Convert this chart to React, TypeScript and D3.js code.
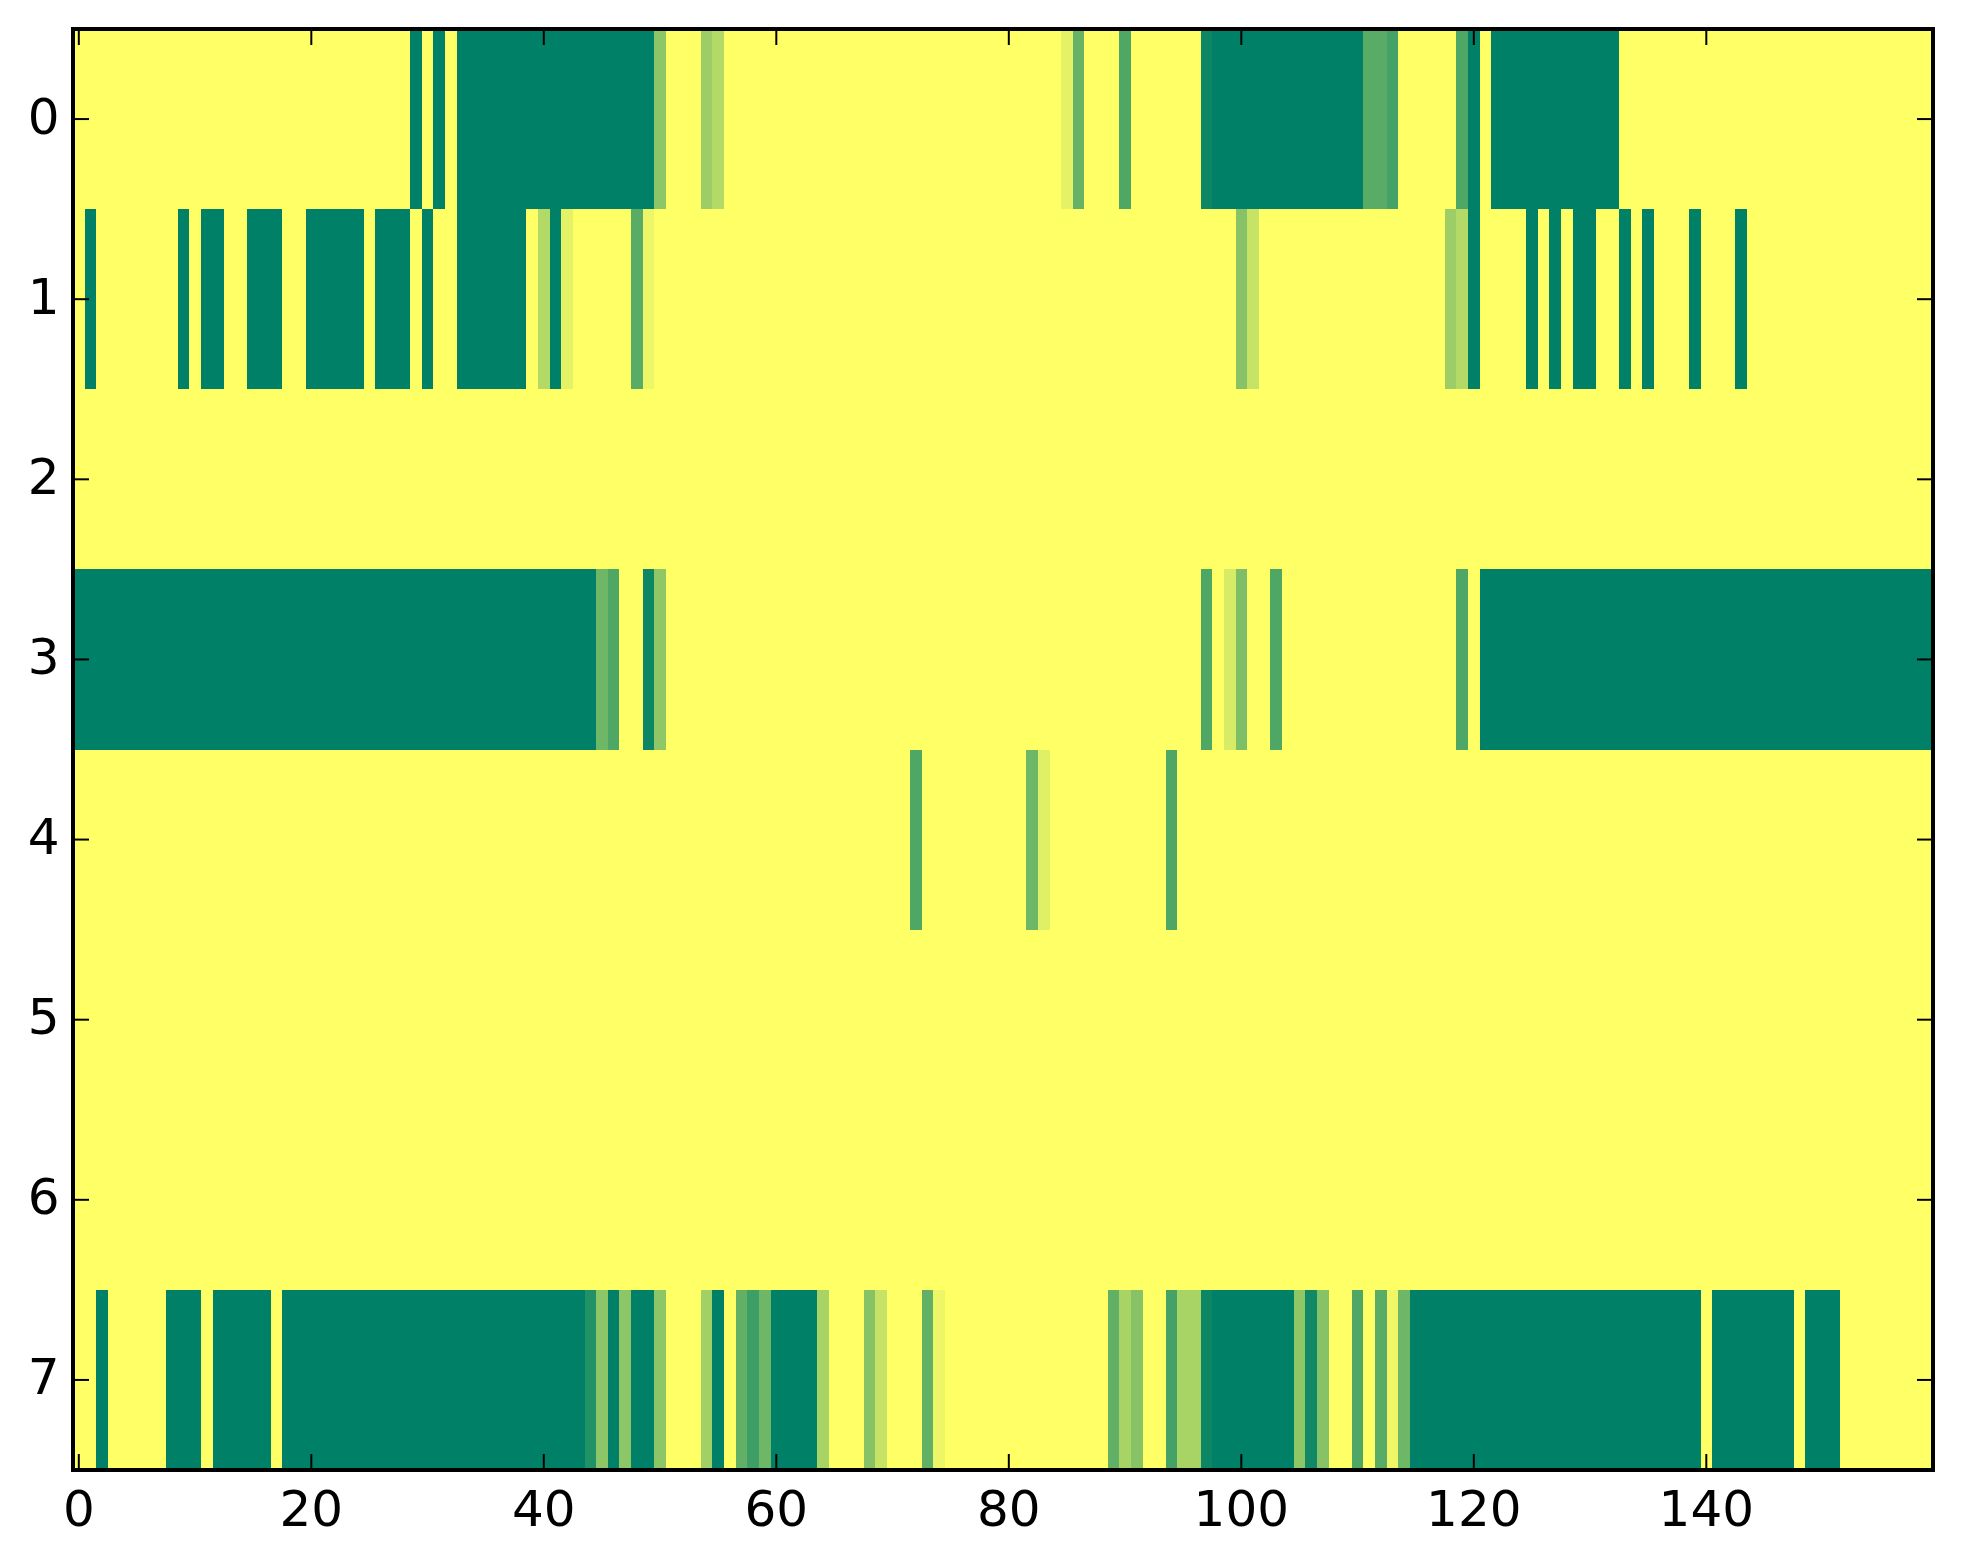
import * as d3 from "d3"

// 8 rows x 160 columns (0 = yellow, 1 = dark green)
const row0 = [
  0, 0, 0, 0, 0, 0, 0, 0, 0, 0, 0, 0, 0, 0, 0, 0, 0, 0, 0, 0,
  0, 0, 0, 0, 0, 0, 0, 0, 0, 1, 0, 1, 0, 1, 1, 1, 1, 1, 1, 1,
  1, 1, 1, 1, 1, 1, 1, 1, 1, 1, 0.45, 0, 0, 0, 0.39, 0.3, 0, 0, 0, 0,
  0, 0, 0, 0, 0, 0, 0, 0, 0, 0, 0, 0, 0, 0, 0, 0, 0, 0, 0, 0,
  0, 0, 0, 0, 0, 0.1, 0.6, 0, 0, 0, 0.69, 0, 0, 0, 0, 0, 0, 0.95, 1, 1,
  1, 1, 1, 1, 1, 1, 1, 1, 1, 1, 1, 0.65, 0.65, 0.73, 0, 0, 0, 0, 0, 0.69,
  1, 0, 1, 1, 1, 1, 1, 1, 1, 1, 1, 1, 1, 0, 0, 0, 0, 0, 0, 0,
  0, 0, 0, 0, 0, 0, 0, 0, 0, 0, 0, 0, 0, 0, 0, 0, 0, 0, 0, 0,
]
const row1 = [
  0, 1, 0, 0, 0, 0, 0, 0, 0, 1, 0, 1, 1, 0, 0, 1, 1, 1, 0, 0,
  1, 1, 1, 1, 1, 0, 1, 1, 1, 0, 1, 0, 0, 1, 1, 1, 1, 1, 1, 0,
  0.3, 1, 0.1, 0, 0, 0, 0, 0, 0.65, 0.07, 0, 0, 0, 0, 0, 0, 0, 0, 0, 0,
  0, 0, 0, 0, 0, 0, 0, 0, 0, 0, 0, 0, 0, 0, 0, 0, 0, 0, 0, 0,
  0, 0, 0, 0, 0, 0, 0, 0, 0, 0, 0, 0, 0, 0, 0, 0, 0, 0, 0, 0,
  0.47, 0.22, 0, 0, 0, 0, 0, 0, 0, 0, 0, 0, 0, 0, 0, 0, 0, 0, 0.39, 0.3,
  1, 0, 0, 0, 0, 1, 0, 1, 0, 1, 1, 0, 0, 1, 0, 1, 0, 0, 0, 1,
  0, 0, 0, 1, 0, 0, 0, 0, 0, 0, 0, 0, 0, 0, 0, 0, 0, 0, 0, 0,
]
const row2 = [
  0, 0, 0, 0, 0, 0, 0, 0, 0, 0, 0, 0, 0, 0, 0, 0, 0, 0, 0, 0,
  0, 0, 0, 0, 0, 0, 0, 0, 0, 0, 0, 0, 0, 0, 0, 0, 0, 0, 0, 0,
  0, 0, 0, 0, 0, 0, 0, 0, 0, 0, 0, 0, 0, 0, 0, 0, 0, 0, 0, 0,
  0, 0, 0, 0, 0, 0, 0, 0, 0, 0, 0, 0, 0, 0, 0, 0, 0, 0, 0, 0,
  0, 0, 0, 0, 0, 0, 0, 0, 0, 0, 0, 0, 0, 0, 0, 0, 0, 0, 0, 0,
  0, 0, 0, 0, 0, 0, 0, 0, 0, 0, 0, 0, 0, 0, 0, 0, 0, 0, 0, 0,
  0, 0, 0, 0, 0, 0, 0, 0, 0, 0, 0, 0, 0, 0, 0, 0, 0, 0, 0, 0,
  0, 0, 0, 0, 0, 0, 0, 0, 0, 0, 0, 0, 0, 0, 0, 0, 0, 0, 0, 0,
]
const row3 = [
  1, 1, 1, 1, 1, 1, 1, 1, 1, 1, 1, 1, 1, 1, 1, 1, 1, 1, 1, 1,
  1, 1, 1, 1, 1, 1, 1, 1, 1, 1, 1, 1, 1, 1, 1, 1, 1, 1, 1, 1,
  1, 1, 1, 1, 1, 0.57, 0.69, 0, 0, 0.95, 0.44, 0, 0, 0, 0, 0, 0, 0, 0, 0,
  0, 0, 0, 0, 0, 0, 0, 0, 0, 0, 0, 0, 0, 0, 0, 0, 0, 0, 0, 0,
  0, 0, 0, 0, 0, 0, 0, 0, 0, 0, 0, 0, 0, 0, 0, 0, 0, 0.69, 0, 0.16,
  0.51, 0, 0, 0.69, 0, 0, 0, 0, 0, 0, 0, 0, 0, 0, 0, 0, 0, 0, 0, 0.69,
  0, 1, 1, 1, 1, 1, 1, 1, 1, 1, 1, 1, 1, 1, 1, 1, 1, 1, 1, 1,
  1, 1, 1, 1, 1, 1, 1, 1, 1, 1, 1, 1, 1, 1, 1, 1, 1, 1, 1, 1,
]
const row4 = [
  0, 0, 0, 0, 0, 0, 0, 0, 0, 0, 0, 0, 0, 0, 0, 0, 0, 0, 0, 0,
  0, 0, 0, 0, 0, 0, 0, 0, 0, 0, 0, 0, 0, 0, 0, 0, 0, 0, 0, 0,
  0, 0, 0, 0, 0, 0, 0, 0, 0, 0, 0, 0, 0, 0, 0, 0, 0, 0, 0, 0,
  0, 0, 0, 0, 0, 0, 0, 0, 0, 0, 0, 0, 0.69, 0, 0, 0, 0, 0, 0, 0,
  0, 0, 0.57, 0.12, 0, 0, 0, 0, 0, 0, 0, 0, 0, 0, 0.69, 0, 0, 0, 0, 0,
  0, 0, 0, 0, 0, 0, 0, 0, 0, 0, 0, 0, 0, 0, 0, 0, 0, 0, 0, 0,
  0, 0, 0, 0, 0, 0, 0, 0, 0, 0, 0, 0, 0, 0, 0, 0, 0, 0, 0, 0,
  0, 0, 0, 0, 0, 0, 0, 0, 0, 0, 0, 0, 0, 0, 0, 0, 0, 0, 0, 0,
]
const row5 = row2.slice()
const row6 = row2.slice()
const row7 = [
  0, 0, 1, 0, 0, 0, 0, 0, 1, 1, 1, 0, 1, 1, 1, 1, 1, 0, 1, 1,
  1, 1, 1, 1, 1, 1, 1, 1, 1, 1, 1, 1, 1, 1, 1, 1, 1, 1, 1, 1,
  1, 1, 1, 1, 0.87, 0.45, 1, 0.45, 1, 1, 0.45, 0, 0, 0, 0.37, 1, 0, 0.62, 0.76, 0.57,
  1, 1, 1, 1, 0.34, 0, 0, 0, 0.47, 0.22, 0, 0, 0, 0.62, 0.07, 0, 0, 0, 0, 0,
  0, 0, 0, 0, 0, 0, 0, 0, 0, 0.62, 0.34, 0.47, 0, 0, 0.73, 0.34, 0.34, 0.95, 1, 1,
  1, 1, 1, 1, 1, 0.44, 0.93, 0.47, 0, 0, 0.69, 0, 0.65, 0.06, 0.57, 1, 1, 1, 1, 1,
  1, 1, 1, 1, 1, 1, 1, 1, 1, 1, 1, 1, 1, 1, 1, 1, 1, 1, 1, 1,
  0, 1, 1, 1, 1, 1, 1, 1, 0, 1, 1, 1, 0, 0, 0, 0, 0, 0, 0, 0,
]

const rows = [row0, row1, row2, row3, row4, row5, row6, row7]
const xTicks = [0, 20, 40, 60, 80, 100, 120, 140]
const yTicks = [0, 1, 2, 3, 4, 5, 6, 7]

const W = 1963
const H = 1564
const left = 73
const right = 1933
const top = 29
const bottom = 1470
const tickLen = 16
const font = "'DejaVu Sans', sans-serif"

export default function App() {
  const x = d3.scaleLinear().domain([-0.5, 159.5]).range([left, right])
  const y = d3.scaleLinear().domain([-0.5, 7.5]).range([top, bottom])
  // summer_r colormap: yellow -> green
  const color = d3
    .scaleLinear<string>()
    .domain([0, 1])
    .range(["#ffff66", "#008066"])
    .interpolate(d3.interpolateRgb)

  return (
    <div style={{ position: "absolute", left: 0, top: 0 }}>
      <svg width={W} height={H} style={{ display: "block", background: "#fff" }}>
        <g shapeRendering="crispEdges">
          {rows.map((row, r) =>
            row.map((v, c) => (
              <rect
                key={`${r}-${c}`}
                x={x(c - 0.5)}
                y={y(r - 0.5)}
                width={x(c + 0.5) - x(c - 0.5) + 0.4}
                height={y(r + 0.5) - y(r - 0.5) + 0.4}
                fill={color(v)}
              />
            ))
          )}
        </g>

        {/* ticks on all four sides, pointing inward */}
        <g stroke="#000" strokeWidth={2}>
          {xTicks.map((t) => (
            <g key={`xt${t}`}>
              <line x1={x(t)} x2={x(t)} y1={bottom} y2={bottom - tickLen} />
              <line x1={x(t)} x2={x(t)} y1={top} y2={top + tickLen} />
            </g>
          ))}
          {yTicks.map((t) => (
            <g key={`yt${t}`}>
              <line x1={left} x2={left + tickLen} y1={y(t)} y2={y(t)} />
              <line x1={right} x2={right - tickLen} y1={y(t)} y2={y(t)} />
            </g>
          ))}
        </g>

        <rect
          x={left}
          y={top}
          width={right - left}
          height={bottom - top}
          fill="none"
          stroke="#000"
          strokeWidth={4}
        />

        <g fontFamily={font} fontSize={50} fill="#000">
          {xTicks.map((t) => (
            <text key={`xl${t}`} x={x(t)} y={bottom + 55.5} textAnchor="middle">
              {t}
            </text>
          ))}
          {yTicks.map((t) => (
            <text key={`yl${t}`} x={59.5} y={y(t) + 14.5} textAnchor="end">
              {t}
            </text>
          ))}
        </g>
      </svg>
    </div>
  )
}
